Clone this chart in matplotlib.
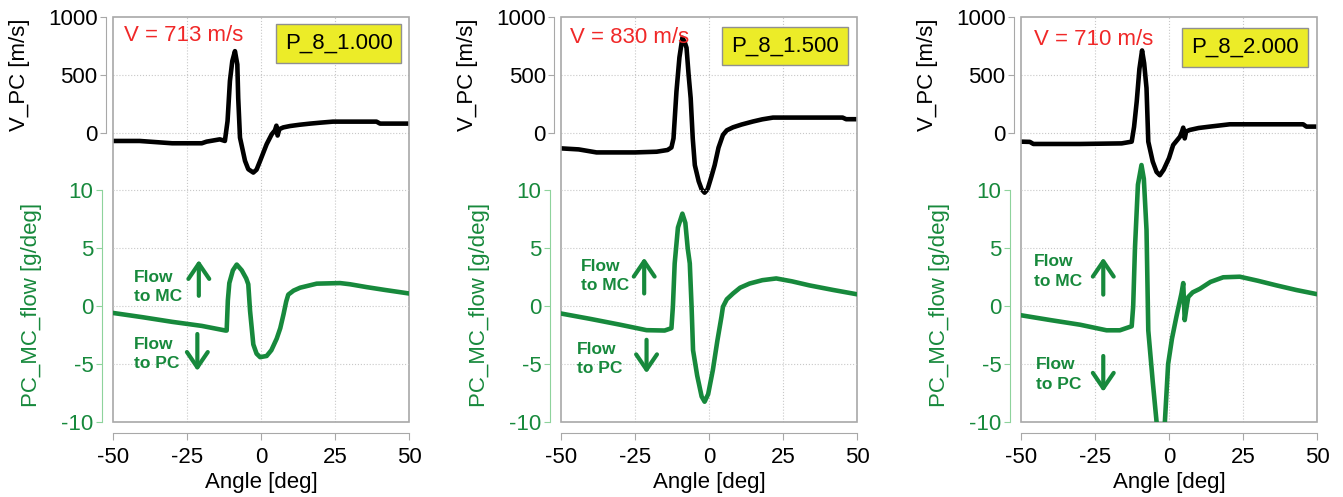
import numpy as np
import matplotlib.pyplot as plt
from matplotlib.patches import Rectangle

plt.rcParams['font.family'] = ['Liberation Sans', 'DejaVu Sans']
plt.rcParams['axes.unicode_minus'] = False

# ---- data ----
case_names = ['P_8_1.000', 'P_8_1.500', 'P_8_2.000']
v_labels = ['V = 713 m/s', 'V = 830 m/s', 'V = 710 m/s']

ang_v1 = [-50, -41, -30, -20, -18.4, -13.9, -12.2, -11.3, -10.5, -9.7, -8.8, -8.0, -7.7, -7.1,
          -5.4, -4.3, -2.6, -1.5, -0.3, 1.9, 3.6, 4.7, 5.2, 5.6, 6.2, 7.5, 9.8, 13, 16.6, 20,
          24.3, 30, 39, 40.2, 45, 50]
v_pc1 = [-72, -72, -92, -92, -78, -58, -72, 100, 446, 618, 704, 589, 300, -43,
         -244, -316, -345, -320, -244, -100, -15, 20, 60, -25, 30, 45, 57, 68, 78, 86,
         95, 95, 95, 78, 78, 78]
ang_f1 = [-50, -40, -30, -20, -12, -11.6, -11.2, -10.7, -9.5, -8.2, -6.5, -5, -4.3, -3.7, -2.6,
          -1.5, -0.3, 1.9, 3.5, 5.3, 6.5, 7.6, 8.5, 9.2, 11, 13.2, 18.8, 26.7, 30, 35.7, 42, 50]
flow1 = [-0.58, -0.95, -1.35, -1.7, -2.1, -2.1, 0.5, 2.0, 3.1, 3.6, 3.1, 2.4, 1.9, -0.4, -3.3,
         -4.1, -4.4, -4.3, -3.8, -2.8, -1.9, -0.7, 0.4, 1.0, 1.35, 1.6, 1.95, 2.0, 1.9, 1.65, 1.4, 1.1]

ang_v2 = [-50, -44, -38, -25, -17.7, -14, -12.7, -12, -11, -10, -9, -8.2, -7.6, -6.9, -6.2, -5.5,
          -4.8, -3.5, -2.5, -1.5, -0.5, 0.8, 1.9, 3.2, 4.7, 6, 8.1, 11, 14.8, 18, 21.6, 45.1, 46.3, 50]
v_pc2 = [-136, -145, -171, -171, -165, -150, -128, -50, 356, 650, 820, 780, 733, 500, 298, -50,
         -281, -420, -490, -519, -490, -380, -281, -130, -20, 20, 46, 70, 96, 115, 130, 130, 116, 116]
ang_f2 = [-50, -40, -30, -21.1, -15, -12.7, -12.2, -11.6, -10.5, -9, -8, -7.2, -6.5, -5.9, -5.4,
          -4, -2.5, -1.5, -0.3, 1.3, 2.8, 4.2, 4.7, 6, 8.1, 10.5, 13.7, 18, 22.7, 28, 33.9, 42, 50]
flow2 = [-0.63, -1.1, -1.6, -2.07, -2.1, -1.9, 0, 3.7, 6.8, 8.0, 7.2, 5, 3.7, 0, -3.8,
         -6.0, -7.8, -8.25, -7.6, -5.5, -3.0, -0.9, -0.05, 0.6, 1.1, 1.6, 1.96, 2.25, 2.4, 2.15, 1.8, 1.4, 1.03]

ang_v3 = [-50, -47, -45.8, -30, -16, -12.6, -11.8, -10.9, -10, -9.1, -8.4, -7.6, -7, -5.5, -4.2,
          -3.1, -1.8, 0, 1.4, 3.7, 4.4, 4.8, 5.3, 5.8, 7, 10, 13.8, 20.5, 45.3, 46.4, 50]
v_pc3 = [-78, -80, -98, -98, -93, -78, 50, 270, 550, 710, 600, 385, -78, -250, -340,
         -368, -320, -220, -107, -35, 10, 43, -50, 10, 23, 40, 52, 72, 72, 52, 52]
ang_f3 = [-50, -40, -30, -21.1, -16.6, -12.6, -12.1, -11.5, -10.5, -9.3, -8.5, -7.6, -7, -5.5,
          -4.2, -3.2, -2.2, -1.4, -0.3, 1, 2.5, 4.2, 4.8, 5.3, 5.8, 6.5, 8, 10.4, 14, 18.3, 23.9,
          30, 36.3, 43, 50]
flow3 = [-0.78, -1.2, -1.6, -2.08, -2.08, -1.73, 0, 5, 10.5, 12.2, 11, 6.6, -2.1, -6.5,
         -10, -11.5, -11.5, -10, -5, -2.8, -0.9, 1.1, 2.0, -1.2, -0.3, 0.8, 1.2, 1.5, 2.1, 2.5, 2.55,
         2.2, 1.8, 1.4, 1.04]

angles_v = [ang_v1, ang_v2, ang_v3]
v_pc = [v_pc1, v_pc2, v_pc3]
angles_f = [ang_f1, ang_f2, ang_f3]
flows = [flow1, flow2, flow3]

# annotation places (angle, flow) for the "Flow to ..." notes
mc_text_xy = [(-43, 1.65), (-43.4, 2.6), (-45.6, 3.0)]
pc_text_xy = [(-43, -4.1), (-44.5, -4.55), (-44.9, -5.9)]
up_arrow = [(-21, 0.9, 4.0), (-21.9, 1.1, 4.2), (-22.2, 1.0, 4.2)]
down_arrow = [(-21.5, -2.4, -5.6), (-21.1, -2.9, -5.8), (-22.2, -4.3, -7.4)]
vtext_pos = [(0.037, 0.953), (0.03, 0.949), (0.044, 0.945)]
box_pos = [(0.762, 0.934), (0.756, 0.928), (0.756, 0.924)]

green = '#17893c'
lgreen = '#8ed39c'
gray = '#a8a8a8'
fs = 16

fig = plt.figure(figsize=(13.43, 4.97), dpi=100)
lefts = [0.0841, 0.4177, 0.7602]

for i in range(3):
    ax = fig.add_axes([lefts[i], 0.151, 0.2205, 0.815])
    ax2 = ax.twinx()

    # velocity (top part)
    ax.plot(angles_v[i], v_pc[i], color='k', lw=3.3, solid_joinstyle='round', zorder=3)
    ax.set_xlim(-50, 50)
    ax.set_ylim(-2500, 1000)
    ax.set_yticks([0, 500, 1000])
    ax.set_xticks([-50, -25, 0, 25, 50])
    for s in ['top', 'right']:
        ax.spines[s].set_visible(False)
    ax.spines['left'].set_position(('outward', 5))
    ax.spines['left'].set_bounds(0, 1000)
    ax.spines['left'].set_color(gray)
    ax.spines['bottom'].set_position(('outward', 8))
    ax.spines['bottom'].set_color(gray)
    ax.tick_params(axis='y', colors=gray, labelcolor='k', labelsize=fs, length=4, pad=2)
    ax.tick_params(axis='x', colors=gray, labelcolor='k', labelsize=fs, length=5, pad=5)
    ax.set_ylabel('V_PC [m/s]', fontsize=fs)
    ax.yaxis.set_label_coords(-0.28, 0.856)
    ax.set_xlabel('Angle [deg]', fontsize=fs, labelpad=3)

    # grid
    for gx in [-25, 0, 25]:
        ax.axvline(gx, color='#c8c8c8', lw=0.8, ls=':', zorder=0)
    for gy in [500, 0]:
        ax.axhline(gy, color='#c8c8c8', lw=0.8, ls=':', zorder=0)

    # frame
    ax.add_patch(Rectangle((0, 0), 1, 1, transform=ax.transAxes, fill=False,
                           edgecolor=gray, lw=1.2, zorder=5, clip_on=False))

    # flow (bottom part)
    ax2.plot(angles_f[i], flows[i], color=green, lw=3.3, solid_joinstyle='round', zorder=3)
    ax2.set_ylim(-10, 25)
    ax2.set_yticks([-10, -5, 0, 5, 10])
    for gy in [10, 5, 0, -5]:
        ax2.axhline(gy, color='#c8c8c8', lw=0.8, ls=':', zorder=0)
    ax2.yaxis.tick_left()
    ax2.yaxis.set_label_position('left')
    for s in ['top', 'right', 'bottom']:
        ax2.spines[s].set_visible(False)
    ax2.spines['left'].set_visible(True)
    ax2.spines['left'].set_position(('outward', 8))
    ax2.spines['left'].set_bounds(-10, 10)
    ax2.spines['left'].set_color(lgreen)
    ax2.tick_params(axis='y', colors=lgreen, labelcolor=green, labelsize=fs, length=4, pad=2)
    ax2.set_ylabel('PC_MC_flow [g/deg]', fontsize=fs, color=green)
    ax2.yaxis.set_label_coords(-0.24, 0.29)

    ax2.text(vtext_pos[i][0], vtext_pos[i][1], v_labels[i], transform=ax.transAxes,
             color='#f02828', fontsize=fs, ha='left', va='center')
    ax2.text(box_pos[i][0], box_pos[i][1], case_names[i], transform=ax.transAxes,
             fontsize=fs, ha='center', va='center',
             bbox=dict(boxstyle='square,pad=0.4', fc='#ecec28', ec='#909090', lw=1))

    ax2.text(mc_text_xy[i][0], mc_text_xy[i][1], 'Flow\nto MC', color=green, fontsize=12.5,
             fontweight='bold', ha='left', va='center', linespacing=1.35)
    ax2.text(pc_text_xy[i][0], pc_text_xy[i][1], 'Flow\nto PC', color=green, fontsize=12.5,
             fontweight='bold', ha='left', va='center', linespacing=1.35)
    astyle = dict(arrowstyle='->,head_length=1.1,head_width=0.75', color=green, lw=3,
                  mutation_scale=10, shrinkA=0, shrinkB=0)
    x, y0, y1 = up_arrow[i]
    ax2.annotate('', xy=(x, y1), xytext=(x, y0), arrowprops=astyle)
    x, y0, y1 = down_arrow[i]
    ax2.annotate('', xy=(x, y1), xytext=(x, y0), arrowprops=astyle)

fig.savefig('out.png', dpi=100)
